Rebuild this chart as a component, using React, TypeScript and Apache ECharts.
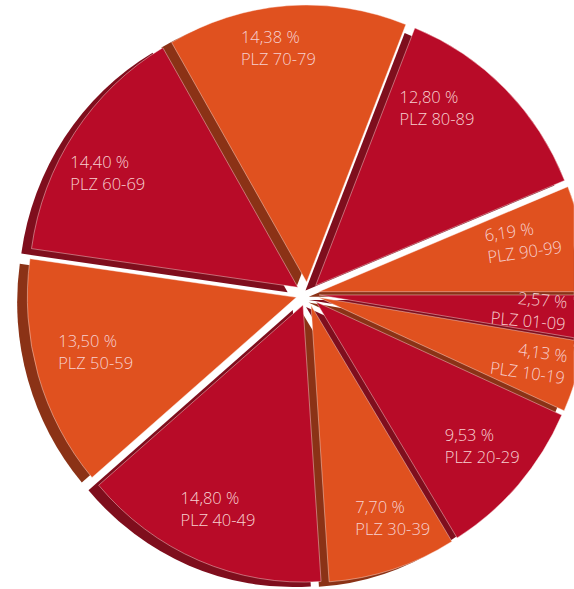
import React, { useEffect, useRef } from "react";
import * as echarts from "echarts";

// ---- data ----
const categories = [
  "PLZ 01-09",
  "PLZ 10-19",
  "PLZ 20-29",
  "PLZ 30-39",
  "PLZ 40-49",
  "PLZ 50-59",
  "PLZ 60-69",
  "PLZ 70-79",
  "PLZ 80-89",
  "PLZ 90-99",
];
const shares = [2.57, 4.13, 9.53, 7.7, 14.8, 13.5, 14.4, 14.38, 12.8, 6.19];

// ---- styling ----
const faceColors = ["#b80b28", "#e0511f"];
const sideColors = ["#7f0e1d", "#8b3216"];
const labelTilt = [-5, -8, 0, 0, 0, 0, 0, 0, 0, 8];
const labelAlign = ["r", "r", "l", "l", "l", "l", "l", "l", "l", "l"];
const labelNudge: [number, number][] = [
  [-9, -3],
  [0, -1],
  [1, -6],
  [15, -3],
  [0, -5],
  [10, -9],
  [-8, 11],
  [-12, -9],
  [-33, -17],
  [-10, -9],
];

const SQUASH = 0.971; // the reference pie is slightly narrower than tall
const W = 574;
const H = 589;
const CX = 307.5 / SQUASH;
const CY = 294;
const R = 277;
const LABEL_R = 235;
const EXPLODE = 12;
const DX = -10.5;
const DY = 5;

const fmtPct = (v: number) => v.toFixed(2).replace(".", ",") + " %";

const textStyle = {
  color: "#f7d0d0",
  fontFamily: "Open Sans",
  fontWeight: 300,
  fontSize: 17,
  lineHeight: 22,
};

export default function App() {
  const ref = useRef<HTMLDivElement>(null);
  useEffect(() => {
    document.body.style.margin = "0";
    if (!ref.current) return;
    const chart = echarts.init(ref.current, null, { renderer: "svg" });

    const base = {
      type: "pie" as const,
      radius: R,
      startAngle: 0,
      clockwise: true,
      silent: true,
      avoidLabelOverlap: false,
      emphasis: { disabled: true },
      labelLine: { show: false },
    };

    const shadowData = categories.map((name, i) => ({
      name,
      value: shares[i],
      selected: true,
      itemStyle: { color: sideColors[i % 2] },
    }));
    const faceData = categories.map((name, i) => ({
      name,
      value: shares[i],
      selected: true,
      itemStyle: { color: faceColors[i % 2] },
    }));
    const labelData = categories.map((name, i) => ({
      name,
      value: shares[i],
      label: { rotate: labelTilt[i] },
    }));

    const faceBorder = { borderColor: "rgba(255,235,230,0.55)", borderWidth: 0.8 };

    chart.setOption({
      animation: false,
      series: [
        {
          ...base,
          z: 1,
          center: [CX + DX, CY + DY],
          selectedMode: "multiple",
          selectedOffset: EXPLODE,
          select: { itemStyle: { borderWidth: 0 } },
          itemStyle: { borderWidth: 0 },
          label: { show: false },
          data: shadowData,
        },
        {
          ...base,
          z: 2,
          center: [CX, CY],
          selectedMode: "multiple",
          selectedOffset: EXPLODE,
          select: { itemStyle: faceBorder },
          itemStyle: faceBorder,
          label: { show: false },
          data: faceData,
        },
        {
          ...base,
          z: 3,
          center: [CX, CY],
          radius: [2 * LABEL_R - R, R],
          itemStyle: { color: "rgba(0,0,0,0)", borderWidth: 0 },
          labelLayout: (p: any) => {
            const n = labelNudge[p.dataIndex] || [0, 0];
            return { dx: n[0] / SQUASH, dy: n[1] };
          },
          label: {
            show: true,
            position: "inside",
            formatter: (p: any) => {
              const k = labelAlign[p.dataIndex] || "l";
              return `{${k}|${fmtPct(p.value)}}\n{${k}|${p.name}}`;
            },
            rich: {
              l: { ...textStyle, align: "left" },
              r: { ...textStyle, align: "right" },
            },
          },
          data: labelData,
        },
      ],
    });
    return () => chart.dispose();
  }, []);
  return (
    <div style={{ width: W, height: H, overflow: "hidden", position: "relative" }}>
      <div
        ref={ref}
        style={{
          width: W / SQUASH,
          height: H,
          transform: `scaleX(${SQUASH})`,
          transformOrigin: "0 0",
        }}
      />
    </div>
  );
}
